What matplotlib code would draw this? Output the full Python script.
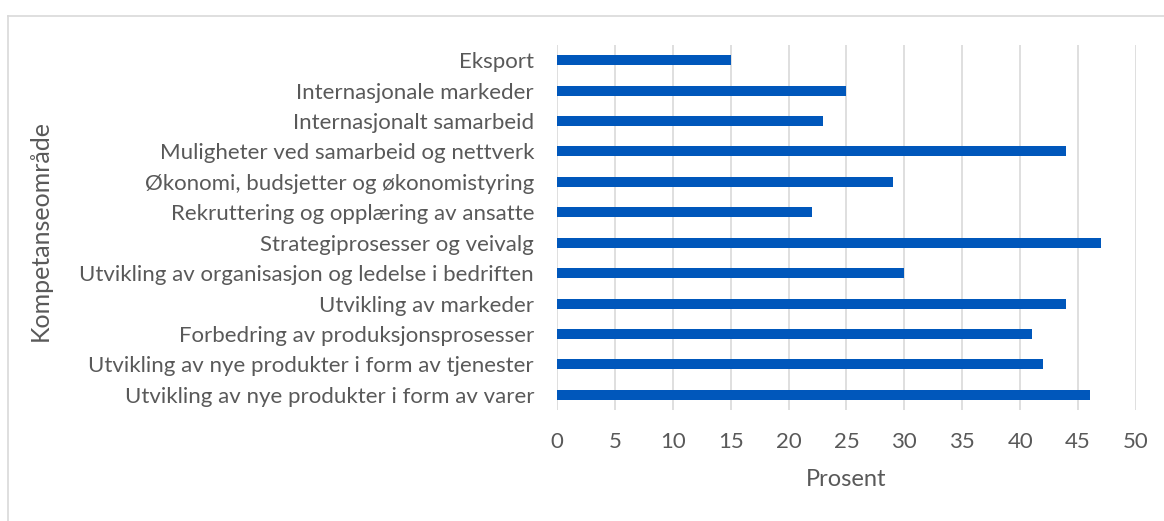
import matplotlib
matplotlib.use("Agg")
import matplotlib.pyplot as plt
from matplotlib.lines import Line2D

categories = [
    "Eksport",
    "Internasjonale markeder",
    "Internasjonalt samarbeid",
    "Muligheter ved samarbeid og nettverk",
    "Økonomi, budsjetter og økonomistyring",
    "Rekruttering og opplæring av ansatte",
    "Strategiprosesser og veivalg",
    "Utvikling av organisasjon og ledelse i bedriften",
    "Utvikling av markeder",
    "Forbedring av produksjonsprosesser",
    "Utvikling av nye produkter i form av tjenester",
    "Utvikling av nye produkter i form av varer",
]
values = [15, 25, 23, 44, 29, 22, 47, 30, 44, 41, 42, 46]
x_ticks = [0, 5, 10, 15, 20, 25, 30, 35, 40, 45, 50]

plt.rcParams['font.family'] = ['Lato', 'DejaVu Sans']
text_color = '#595959'
grid_color = '#d9d9d9'
fs = 16.0

fig = plt.figure(figsize=(11.64, 5.21), dpi=100)
ax = fig.add_axes([0.4785, 0.2131, 0.4974, 0.7005])

ypos = list(range(len(categories)))
ax.barh(ypos, values, height=0.33, color='#0057BB', zorder=3)
ax.set_ylim(len(categories) - 0.5, -0.5)
ax.set_xlim(0, 50)
ax.set_xticks(x_ticks)
ax.set_xticklabels([str(t) for t in x_ticks])
ax.set_yticks(ypos)
ax.set_yticklabels(categories)
ax.grid(axis='x', color=grid_color, linewidth=1.2, zorder=0)
ax.tick_params(axis='both', length=0, labelsize=fs, colors=text_color)
ax.tick_params(axis='y', pad=16.5)
ax.tick_params(axis='x', pad=16)
for s in ax.spines.values():
    s.set_visible(False)

ax.set_xlabel('Prosent', fontsize=17, color=text_color, labelpad=12)
fig.text(0.035, 0.557, 'Kompetanseområde', rotation=90, fontsize=18,
         color=text_color, ha='center', va='center')

# outer chart border (only left and top edge visible)
bx, by = 8 / 1164, 1 - 16 / 521
fig.add_artist(Line2D([bx, 1.0], [by, by], color=grid_color, linewidth=1.2))
fig.add_artist(Line2D([bx, bx], [0.0, by], color=grid_color, linewidth=1.2))

fig.savefig('out.png', dpi=100)
